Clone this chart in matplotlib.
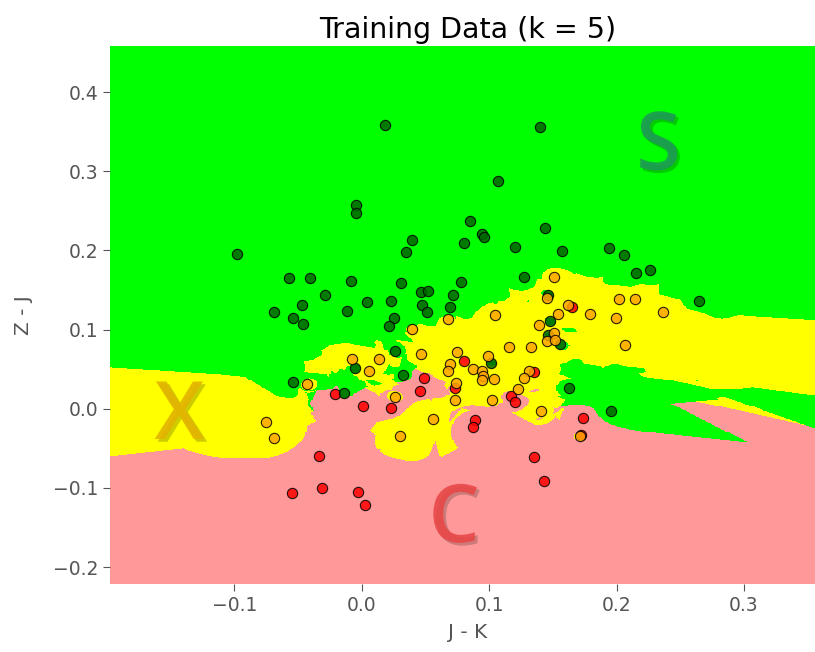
import matplotlib
matplotlib.use("Agg")
import matplotlib.pyplot as plt
import matplotlib.patheffects as pe
from matplotlib.colors import ListedColormap
import numpy as np

K = 5
CLASS_NAMES = ["C", "S", "X"]
REGION_COLORS = ["#FF9999", "#00FF00", "#FFFF00"]

# (J - K, Z - J) colour indices per class
s_jk = [0.0183, 0.1399, 0.1069, -0.0044, -0.0044, 0.0850, 0.1438, 0.0944, 0.0960, 0.0395,
        0.0803, 0.1203, 0.1940, 0.0348, -0.0977, 0.1571, 0.2057, 0.2151, 0.2261, -0.0569,
        -0.0404, -0.0083, 0.0309, 0.0779, 0.1273, -0.0287, 0.0466, 0.0520, 0.0716, 0.1461,
        -0.0467, 0.0042, 0.0230, 0.0473, 0.0693, -0.0687, -0.0114, -0.0538, -0.0459, 0.0513,
        0.0254, 0.0215, 0.1476, 0.1461, 0.1555, 0.0262, -0.0052, 0.1014, 0.0324, -0.0538,
        -0.0138, 0.1625, 0.1955, 0.2644]
s_zj = [0.3583, 0.3558, 0.2876, 0.2573, 0.2472, 0.2371, 0.2282, 0.2206, 0.2169, 0.2131,
        0.2093, 0.2042, 0.2030, 0.1979, 0.1954, 0.1992, 0.1941, 0.1714, 0.1752, 0.1651,
        0.1651, 0.1613, 0.1588, 0.1600, 0.1663, 0.1436, 0.1474, 0.1487, 0.1436, 0.1436,
        0.1310, 0.1348, 0.1360, 0.1310, 0.1284, 0.1221, 0.1234, 0.1146, 0.1070, 0.1221,
        0.1146, 0.1044, 0.1108, 0.0931, 0.0817, 0.0729, 0.0514, 0.0577, 0.0426, 0.0337,
        0.0198, 0.0261, -0.0029, 0.1360]

x_jk = [0.1508, 0.1453, 0.1618, 0.2017, 0.2143, 0.1045, 0.0677, 0.0395, 0.1390, 0.1539,
        0.1790, 0.1994, 0.2362, 0.1508, 0.1453, 0.1516, 0.2064, 0.1155, 0.1328, 0.0748,
        0.0466, -0.0075, 0.0136, 0.0058, -0.0428, 0.0991, 0.0693, 0.0677, 0.0873, 0.0944,
        0.0951, 0.0944, 0.1038, 0.1312, 0.1273, 0.1226, 0.0740, 0.0732, 0.1022, 0.0262,
        0.1406, 0.0560, 0.0301, -0.0749, -0.0687, 0.1712]
x_zj = [0.1663, 0.1398, 0.1310, 0.1385, 0.1385, 0.1183, 0.1133, 0.1007, 0.1057, 0.1196,
        0.1196, 0.1146, 0.1221, 0.0956, 0.0855, 0.0868, 0.0805, 0.0779, 0.0779, 0.0716,
        0.0691, 0.0628, 0.0628, 0.0476, 0.0312, 0.0666, 0.0565, 0.0476, 0.0501, 0.0476,
        0.0413, 0.0362, 0.0375, 0.0476, 0.0388, 0.0249, 0.0325, 0.0110, 0.0110, 0.0148,
        -0.0029, -0.0130, -0.0345, -0.0168, -0.0370, -0.0345]

c_jk = [0.1649, 0.0803, 0.1351, 0.0489, 0.0458, 0.0732, 0.1171, 0.1202, 0.0889, 0.0873,
        -0.0208, 0.0011, 0.0230, 0.1735, 0.1719, -0.0334, -0.0545, -0.0310, -0.0028, 0.0027,
        0.1351, 0.1429]
c_zj = [0.1284, 0.0602, 0.0464, 0.0388, 0.0224, 0.0261, 0.0160, 0.0085, -0.0143, -0.0232,
        0.0186, 0.0034, 0.0009, -0.0117, -0.0333, -0.0597, -0.1065, -0.1002, -0.1052, -0.1216,
        -0.0610, -0.0913]


def knn_predict(train, labels, grid, k, n_classes, chunk=20000):
    """k nearest neighbours, votes weighted by inverse distance."""
    out = np.empty(len(grid), dtype=int)
    for start in range(0, len(grid), chunk):
        g = grid[start:start + chunk]
        d = np.sqrt(((g[:, None, :] - train[None, :, :]) ** 2).sum(axis=2))
        idx = np.argpartition(d, k, axis=1)[:, :k]
        dk = np.take_along_axis(d, idx, axis=1)
        w = 1.0 / np.maximum(dk, 1e-12)
        votes = np.zeros((len(g), n_classes))
        for c in range(n_classes):
            votes[:, c] = (w * (labels[idx] == c)).sum(axis=1)
        out[start:start + chunk] = votes.argmax(axis=1)
    return out


def main():
    X = np.column_stack([
        np.concatenate([c_jk, s_jk, x_jk]),
        np.concatenate([c_zj, s_zj, x_zj]),
    ])
    y = np.concatenate([np.zeros(len(c_jk)), np.ones(len(s_jk)), np.full(len(x_jk), 2)]).astype(int)

    x_min, x_max = X[:, 0].min() - 0.1, X[:, 0].max() + 0.1
    y_min, y_max = X[:, 1].min() - 0.1, X[:, 1].max() + 0.1
    xx, yy = np.meshgrid(np.linspace(x_min, x_max, 600), np.linspace(y_min, y_max, 560))
    Z = knn_predict(X, y, np.c_[xx.ravel(), yy.ravel()], K, 3).reshape(xx.shape)

    fig = plt.figure(figsize=(8.15, 6.52), dpi=100)
    ax = fig.add_axes([0.135, 0.1041, 0.8785, 0.8255])

    ax.pcolormesh(xx, yy, Z, cmap=ListedColormap(REGION_COLORS), vmin=0, vmax=2, shading="auto")

    ax.scatter(c_jk, c_zj, s=55, c="red", edgecolors="k", linewidths=0.8, alpha=0.85, zorder=3)
    ax.scatter(s_jk, s_zj, s=55, c="darkgreen", edgecolors="k", linewidths=0.8, alpha=0.85, zorder=3)
    ax.scatter(x_jk, x_zj, s=55, c="orange", edgecolors="k", linewidths=0.8, alpha=0.85, zorder=3)

    # class letters
    shadow = [pe.withSimplePatchShadow(offset=(2, -2), shadow_rgbFace="k", alpha=0.2)]
    for txt, (tx, ty), col in [("S", (0.2328, 0.3286), "#1e9a55"),
                               ("X", (-0.1431, -0.0117), "#e3b400"),
                               ("C", (0.0724, -0.1420), "#e84848")]:
        ax.text(tx, ty, txt, fontsize=58, family="Open Sans", fontweight="semibold",
                color=col, alpha=0.9, ha="center", va="center", path_effects=shadow, zorder=4)

    ax.set_xlim(x_min, x_max)
    ax.set_ylim(y_min, y_max)
    for sp in ax.spines.values():
        sp.set_visible(False)
    ax.tick_params(direction="out", length=5, color="#555555", labelcolor="#555555", labelsize=13.5)
    ax.set_xlabel("J - K", fontsize=14.5, color="#555555", labelpad=6)
    ax.set_ylabel("Z - J", fontsize=14.5, color="#555555", labelpad=14)
    ax.set_title("Training Data (k = %d)" % K, fontsize=20.5)

    fig.savefig("out.png", dpi=100)
    plt.close(fig)


if __name__ == "__main__":
    main()
